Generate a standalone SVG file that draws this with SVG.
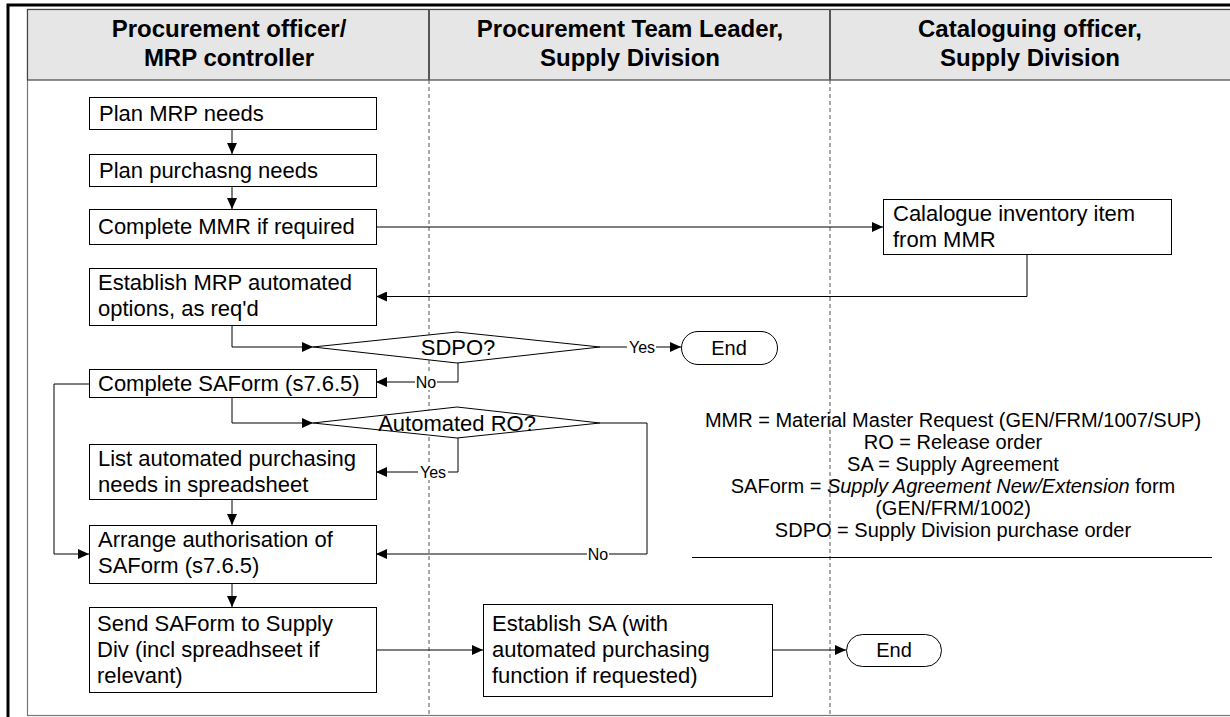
<svg xmlns="http://www.w3.org/2000/svg" width="1230" height="717" viewBox="0 0 1230 717">
<defs>
<marker id="ah" viewBox="0 0 11 10" refX="11" refY="5" markerWidth="11" markerHeight="10" markerUnits="userSpaceOnUse" orient="auto">
<path d="M0,0 L11,5 L0,10 z" fill="#000"/>
</marker>
<style>
text{font-family:"Liberation Sans",Arial,sans-serif;fill:#000}
.hd{font-size:24px;font-weight:bold;text-anchor:middle}
.bx{fill:#fff;stroke:#000;stroke-width:1}
.t{font-size:22px}
.lg{font-size:20px;text-anchor:middle}
.lb{font-size:16px;text-anchor:middle}
.c{fill:none;stroke:#000;stroke-width:1}
.ca{fill:none;stroke:#000;stroke-width:1;marker-end:url(#ah)}
.lbg{fill:#fff}
</style>
</defs>
<rect width="1230" height="717" fill="#fff"/>
<g id="frame">
<rect x="27.5" y="9.5" width="1210" height="706" fill="#fff" stroke="#777" stroke-width="1.2"/>
<rect x="27.5" y="9.5" width="1210" height="70.5" fill="#e6e6e6" stroke="#444" stroke-width="1.2"/>
<line x1="429" y1="9.5" x2="429" y2="80" stroke="#555" stroke-width="2"/>
<line x1="830" y1="9.5" x2="830" y2="80" stroke="#555" stroke-width="2"/>
<line x1="429" y1="80" x2="429" y2="717" stroke="#555" stroke-width="1" stroke-dasharray="4,3"/>
<line x1="830" y1="80" x2="830" y2="717" stroke="#555" stroke-width="1" stroke-dasharray="4,3"/>
<path d="M8,717 V5 H1230" fill="none" stroke="#000" stroke-width="3"/>
</g>
<g id="lane1-header"><text class="hd" x="229" y="37">Procurement officer/</text><text class="hd" x="229" y="66">MRP controller</text></g>
<g id="lane2-header"><text class="hd" x="630" y="37">Procurement Team Leader,</text><text class="hd" x="630" y="66">Supply Division</text></g>
<g id="lane3-header"><text class="hd" x="1030" y="37">Cataloguing officer,</text><text class="hd" x="1030" y="66">Supply Division</text></g>

<g id="connectors">
<line class="ca" x1="232" y1="129" x2="232" y2="154"/>
<line class="ca" x1="232" y1="187" x2="232" y2="209"/>
<line class="ca" x1="376" y1="227" x2="883" y2="227"/>
<polyline class="ca" points="1027,254 1027,296.5 376,296.5"/>
<polyline class="ca" points="232,325 232,347 313,347"/>
<line class="ca" x1="600" y1="347" x2="681" y2="347"/>
<polyline class="ca" points="458,363 458,382 376,382"/>
<polyline class="ca" points="232,397 232,423 313,423"/>
<polyline class="ca" points="458,438 458,472 376,472"/>
<polyline class="ca" points="600,423 647,423 647,554 376,554"/>
<polyline class="ca" points="89,384 54,384 54,554 89,554"/>
<line class="ca" x1="232" y1="499" x2="232" y2="525"/>
<line class="ca" x1="232" y1="583" x2="232" y2="607"/>
<line class="ca" x1="376" y1="650" x2="483" y2="650"/>
<line class="ca" x1="772" y1="650" x2="846" y2="650"/>
<rect class="lbg" x="627" y="339" width="29" height="16"/>
<text class="lb" x="642" y="353">Yes</text>
<rect class="lbg" x="415" y="374" width="22" height="16"/>
<text class="lb" x="426" y="388">No</text>
<rect class="lbg" x="418" y="464" width="30" height="16"/>
<text class="lb" x="433" y="478">Yes</text>
<rect class="lbg" x="587" y="546" width="22" height="16"/>
<text class="lb" x="598" y="560">No</text>
</g>

<g id="n-plan-mrp"><rect class="bx" x="89.5" y="97.5" width="287" height="32"/><text class="t" x="99" y="121">Plan MRP needs</text></g>
<g id="n-plan-purch"><rect class="bx" x="89.5" y="154.5" width="287" height="32"/><text class="t" x="99" y="178">Plan purchasng needs</text></g>
<g id="n-complete-mmr"><rect class="bx" x="89.5" y="209.5" width="287" height="35"/><text class="t" x="98" y="234">Complete MMR if required</text></g>
<g id="n-catalogue"><rect class="bx" x="883.5" y="199.5" width="288" height="55"/><text class="t" x="893" y="221">Calalogue inventory item</text><text class="t" x="893" y="247">from MMR</text></g>
<g id="n-establish-mrp"><rect class="bx" x="89.5" y="268.5" width="287" height="57"/><text class="t" x="98" y="290">Establish MRP automated</text><text class="t" x="98" y="316">options, as req'd</text></g>
<g id="n-sdpo"><polygon class="bx" points="313,347 457,332 600,347 457,363"/><text class="t" x="458" y="355" text-anchor="middle">SDPO?</text></g>
<g id="n-end1"><rect class="bx" x="681.5" y="331.5" width="96" height="33" rx="16.5"/><text x="729" y="355" font-size="20" text-anchor="middle">End</text></g>
<g id="n-complete-saform"><rect class="bx" x="89.5" y="369.5" width="287" height="28"/><text class="t" x="98" y="391">Complete SAForm (s7.6.5)</text></g>
<g id="n-auto-ro"><polygon class="bx" points="313,423 457,407 600,423 457,438"/><text class="t" x="457" y="431" text-anchor="middle">Automated RO?</text></g>
<g id="n-list"><rect class="bx" x="89.5" y="444.5" width="287" height="55"/><text class="t" x="98" y="466">List automated purchasing</text><text class="t" x="98" y="492">needs in spreadsheet</text></g>
<g id="n-arrange"><rect class="bx" x="89.5" y="525.5" width="287" height="58"/><text class="t" x="98" y="547">Arrange authorisation of</text><text class="t" x="98" y="573">SAForm (s7.6.5)</text></g>
<g id="n-send"><rect class="bx" x="89.5" y="607.5" width="287" height="85"/><text class="t" x="97" y="631">Send SAForm to Supply</text><text class="t" x="97" y="657">Div (incl spreadhseet if</text><text class="t" x="97" y="683">relevant)</text></g>
<g id="n-establish-sa"><rect class="bx" x="483.5" y="604.5" width="289" height="92"/><text class="t" x="492" y="631">Establish SA (with</text><text class="t" x="492" y="657">automated purchasing</text><text class="t" x="492" y="683">function if requested)</text></g>
<g id="n-end2"><rect class="bx" x="846.5" y="634.5" width="95" height="32" rx="16"/><text x="894" y="657" font-size="20" text-anchor="middle">End</text></g>
<g id="legend">
<text class="lg" x="953" y="427">MMR = Material Master Request (GEN/FRM/1007/SUP)</text>
<text class="lg" x="953" y="449">RO = Release order</text>
<text class="lg" x="953" y="471">SA = Supply Agreement</text>
<text class="lg" x="953" y="493">SAForm = <tspan font-style="italic">Supply Agreement New/Extension</tspan> form</text>
<text class="lg" x="953" y="515">(GEN/FRM/1002)</text>
<text class="lg" x="953" y="537">SDPO = Supply Division purchase order</text>
<line x1="692" y1="557.5" x2="1212" y2="557.5" stroke="#000" stroke-width="1"/>
</g>
</svg>
